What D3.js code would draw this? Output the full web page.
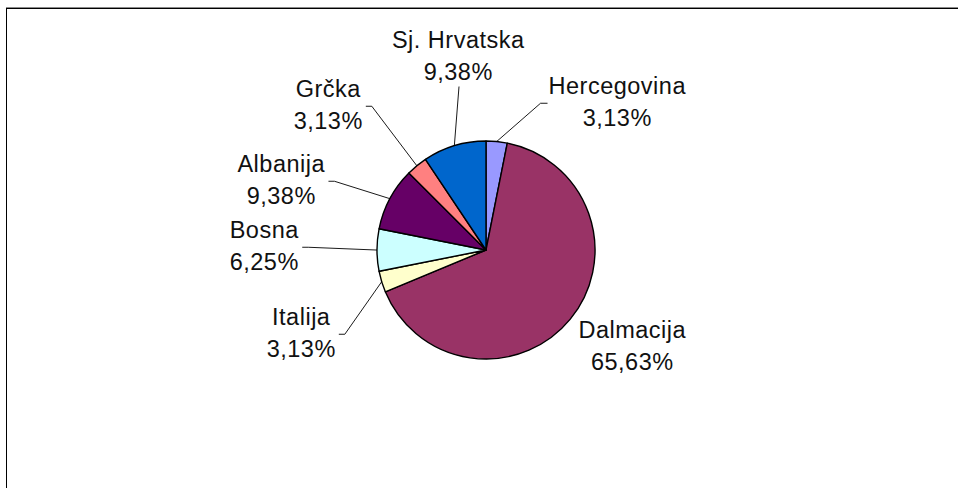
<!DOCTYPE html>
<html><head><meta charset="utf-8">
<script src="https://cdn.jsdelivr.net/npm/d3@7/dist/d3.min.js"></script>
<style>html,body{margin:0;padding:0;background:#fff;overflow:hidden}</style>
</head><body>
<svg id="chart" width="958" height="488"></svg>
<script>
// ---- data ----
const categories = ["Hercegovina","Dalmacija","Italija","Bosna","Albanija","Grčka","Sj. Hrvatska"];
const values = [3.13, 65.63, 3.13, 6.25, 9.38, 3.13, 9.38];
const colors = ["#9999FF","#993366","#FFFFCC","#CCFFFF","#660066","#FF8080","#0066CC"];
// label layout: [centre x, first baseline], side where leader attaches
const labelPos = [[617,94],[632,338],[301,325],[264,238],[281,172],[328,97],[458,48]];
const labelSide = ["right","none","left","left","left","left","top"];

const svg = d3.select("#chart");
const W = 958, H = 488;
const cx = 486, cy = 250, R = 109;
const fs = 23.5, lh = 31.5, ls = 0.5;
const fmt = v => d3.format(".2f")(v).replace(".", ",") + "%";

// frame
svg.append("line").attr("x1",6).attr("x2",W).attr("y1",7.5).attr("y2",7.5).attr("stroke","#8a8a8a").attr("stroke-width",1);
svg.append("line").attr("x1",6).attr("x2",W).attr("y1",8.5).attr("y2",8.5).attr("stroke","#000").attr("stroke-width",1);
svg.append("line").attr("x1",6.5).attr("x2",6.5).attr("y1",8).attr("y2",H).attr("stroke","#000").attr("stroke-width",1);

const data = categories.map((c,i)=>({name:c, value:values[i], color:colors[i], pos:labelPos[i], side:labelSide[i]}));
const pie = d3.pie().value(d=>d.value).sort(null).startAngle(0).endAngle(2*Math.PI);
const arcs = pie(data);
const arc = d3.arc().innerRadius(0).outerRadius(R);

const g = svg.append("g").attr("transform",`translate(${cx},${cy})`);
g.selectAll("path").data(arcs).enter().append("path")
  .attr("d",arc).attr("fill",d=>d.data.color)
  .attr("stroke","#000").attr("stroke-width",1.4).attr("stroke-linejoin","round");

// labels
const lg = svg.append("g").attr("font-family","Arial, 'Liberation Sans', sans-serif")
  .attr("font-size",fs).attr("letter-spacing",ls).attr("fill","#111");
arcs.forEach(a=>{
  const d = a.data;
  const t = lg.append("text").attr("text-anchor","middle");
  t.append("tspan").attr("x",d.pos[0]+ls/2).attr("y",d.pos[1]).text(d.name);
  t.append("tspan").attr("x",d.pos[0]+ls/2).attr("y",d.pos[1]+lh).text(fmt(d.value));
  const bb = t.node().getBBox();
  const mid = (a.startAngle + a.endAngle)/2;
  const ex = cx + R*Math.sin(mid), ey = cy - R*Math.cos(mid);
  const ymid = d.pos[1] + lh/2 - 6.5;
  let pts = null;
  if (d.side === "left") {
    const x0 = bb.x + bb.width + 3;
    pts = [[x0,ymid],[x0+6,ymid],[ex,ey]];
  } else if (d.side === "right") {
    const x0 = bb.x - 1;
    pts = [[x0,ymid],[x0-7,ymid],[ex,ey]];
  } else if (d.side === "top") {
    pts = [[d.pos[0]+1, bb.y + bb.height + 2],[ex,ey]];
  }
  if (pts) {
    svg.append("path").attr("d",d3.line()(pts)).attr("fill","none")
      .attr("stroke","#000").attr("stroke-width",0.9);
  }
});
</script>
</body></html>
